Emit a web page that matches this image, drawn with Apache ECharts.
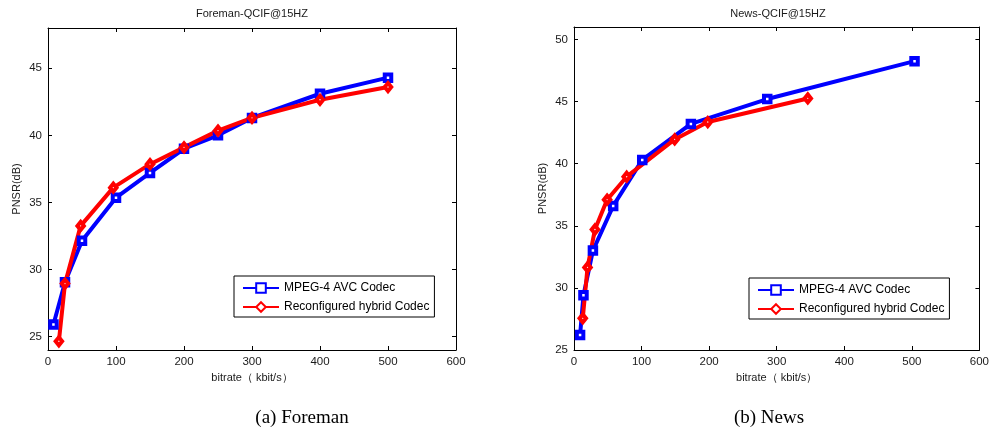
<!DOCTYPE html>
<html><head><meta charset="utf-8">
<script src="https://cdn.jsdelivr.net/npm/echarts@6/dist/echarts.min.js"></script>
<style>html,body{margin:0;padding:0;background:#fff}#c{width:992px;height:432px}</style>
</head><body><div id="c"></div>
<script>
const seriesNames = ['MPEG-4 AVC Codec', 'Reconfigured hybrid Codec'];
const xTicks = [0, 100, 200, 300, 400, 500, 600];
const foremanYTicks = [25, 30, 35, 40, 45];
const newsYTicks = [25, 30, 35, 40, 45, 50];

const foremanAvcX = [8, 25, 50, 100, 150, 200, 250, 300, 400, 500];
const foremanAvcY = [25.9, 29.05, 32.15, 35.35, 37.2, 39.0, 40.0, 41.3, 43.1, 44.3];
const foremanHybX = [16, 25, 48, 96, 150, 200, 250, 300, 400, 500];
const foremanHybY = [24.65, 28.95, 33.25, 36.1, 37.85, 39.1, 40.35, 41.3, 42.65, 43.6];

const newsAvcX = [9, 14, 28, 58, 101, 173, 286, 504];
const newsAvcY = [26.2, 29.4, 33.0, 36.6, 40.3, 43.2, 45.2, 48.25];
const newsHybX = [13, 20, 31, 49, 78, 149, 198, 346];
const newsHybY = [27.55, 31.65, 34.7, 37.1, 38.95, 41.95, 43.35, 45.25];

const zip = (xs, ys) => xs.map((x, i) => [x, ys[i]]);
const FONT = 'Liberation Sans';
const TXT = '#1a1a1a';

const chart = echarts.init(document.getElementById('c'), null, {renderer: 'canvas'});

function xAxes(gridIndex) {
  return [
    {type: 'value', gridIndex, min: 0, max: 600, interval: 100, position: 'bottom',
     name: 'bitrate（ kbit/s）', nameLocation: 'middle', nameGap: 20,
     nameTextStyle: {fontFamily: FONT, fontSize: 11, color: TXT},
     axisLine: {show: true, onZero: false, lineStyle: {color: '#000', width: 1}},
     axisTick: {show: true, inside: true, length: 4, lineStyle: {color: '#000'}},
     axisLabel: {fontFamily: FONT, fontSize: 11.5, color: TXT, margin: 6,
                 customValues: xTicks},
     splitLine: {show: false}},
    {type: 'value', gridIndex, min: 0, max: 600, interval: 100, position: 'top',
     axisLine: {show: true, onZero: false, lineStyle: {color: '#000', width: 1}},
     axisTick: {show: true, inside: true, length: 4, lineStyle: {color: '#000'}},
     axisLabel: {show: false}, splitLine: {show: false}}
  ];
}
function yAxes(gridIndex, min, max, ticks) {
  return [
    {type: 'value', gridIndex, min, max, position: 'left',
     name: 'PNSR(dB)', nameLocation: 'middle', nameGap: 26, nameRotate: 90,
     nameTextStyle: {fontFamily: FONT, fontSize: 11, color: TXT},
     axisLine: {show: true, onZero: false, lineStyle: {color: '#000', width: 1}},
     axisTick: {show: true, inside: true, length: 4, lineStyle: {color: '#000'}, customValues: ticks},
     axisLabel: {fontFamily: FONT, fontSize: 11.5, color: TXT, margin: 6, customValues: ticks},
     splitLine: {show: false}},
    {type: 'value', gridIndex, min, max, position: 'right',
     axisLine: {show: true, onZero: false, lineStyle: {color: '#000', width: 1}},
     axisTick: {show: true, inside: true, length: 4, lineStyle: {color: '#000'}, customValues: ticks},
     axisLabel: {show: false}, splitLine: {show: false}}
  ];
}
function mk(name, data, xi, yi, color, symbol, size) {
  return {
    type: 'line', name, data, xAxisIndex: xi, yAxisIndex: yi,
    symbol, symbolSize: size, showAllSymbol: true,
    lineStyle: {color, width: 4},
    itemStyle: {color: '#fff', borderColor: color, borderWidth: 4},
    emphasis: {disabled: true}, animation: false
  };
}
function legend(left, top) {
  return {
    left, top, orient: 'vertical', data: seriesNames,
    padding: [6, 5, 4, 8], itemGap: 7, itemWidth: 36, itemHeight: 12,
    borderColor: '#000', borderWidth: 1, backgroundColor: '#fff',
    textStyle: {fontFamily: FONT, fontSize: 12, color: '#000'},
    selectedMode: false
  };
}

chart.setOption({
  animation: false,
  backgroundColor: '#fff',
  title: [
    {text: 'Foreman-QCIF@15HZ', left: 252, top: 8, textAlign: 'center', padding: 0,
     textStyle: {fontFamily: FONT, fontSize: 11, fontWeight: 'normal', color: TXT}},
    {text: 'News-QCIF@15HZ', left: 778, top: 8, textAlign: 'center', padding: 0,
     textStyle: {fontFamily: FONT, fontSize: 11, fontWeight: 'normal', color: TXT}}
  ],
  grid: [
    {left: 48, top: 28, width: 408, height: 322},
    {left: 574, top: 27, width: 408, height: 323}
  ],
  xAxis: [...xAxes(0), ...xAxes(1)],
  yAxis: [...yAxes(0, 24, 48, foremanYTicks), ...yAxes(1, 25, 51, newsYTicks)],
  legend: [legend(234, 276), legend(749, 278)],
  series: [
    mk(seriesNames[0], zip(foremanAvcX, foremanAvcY), 0, 0, '#0000ff', 'rect', 6.5),
    mk(seriesNames[1], zip(foremanHybX, foremanHybY), 0, 0, '#ff0000', 'diamond', [6.5, 8]),
    mk(seriesNames[0], zip(newsAvcX, newsAvcY), 2, 2, '#0000ff', 'rect', 6.5),
    mk(seriesNames[1], zip(newsHybX, newsHybY), 2, 2, '#ff0000', 'diamond', [6.5, 8])
  ],
  graphic: [
    {type: 'text', x: 302, y: 418, silent: true,
     style: {text: '(a) Foreman', font: '19px "Liberation Serif"', fill: '#000', align: 'center', verticalAlign: 'middle'}},
    {type: 'text', x: 769, y: 418, silent: true,
     style: {text: '(b) News', font: '19px "Liberation Serif"', fill: '#000', align: 'center', verticalAlign: 'middle'}}
  ]
});
</script></body></html>
